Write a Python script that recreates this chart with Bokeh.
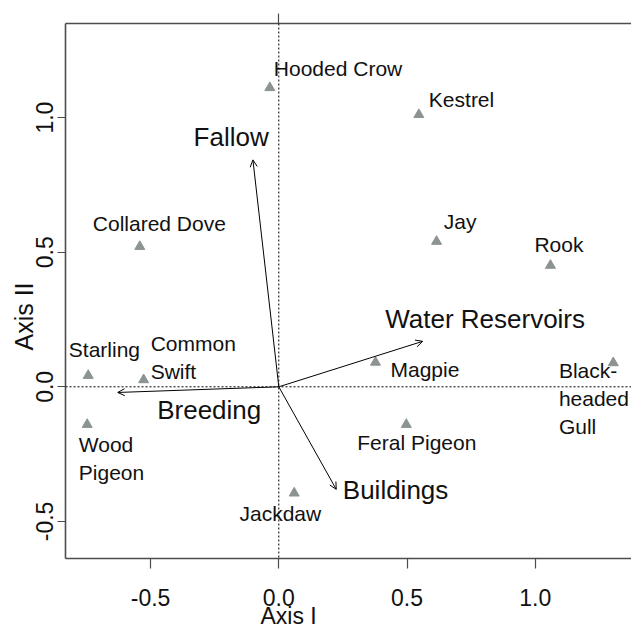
from bokeh.plotting import figure
from bokeh.models import (Range1d, LinearAxis, FixedTicker, Span, Arrow, OpenHead,
                          Title, ColumnDataSource)
from bokeh.core.properties import value
from bokeh.embed import file_html
from bokeh.resources import INLINE

# ---- data ----
species = ["Hooded Crow", "Kestrel", "Collared Dove", "Jay", "Rook", "Starling",
           "Common\nSwift", "Wood\nPigeon", "Jackdaw", "Magpie", "Feral Pigeon",
           "Black-\nheaded\nGull"]
axis1 = [-0.035, 0.546, -0.542, 0.615, 1.059, -0.743, -0.527, -0.747, 0.060, 0.377, 0.497, 1.304]
axis2 = [1.111, 1.011, 0.521, 0.540, 0.451, 0.042, 0.026, -0.140, -0.395, 0.091, -0.140, 0.089]

env_vars = ["Fallow", "Breeding", "Water Reservoirs", "Buildings"]
env_x = [-0.101, -0.628, 0.561, 0.224]
env_y = [0.843, -0.021, 0.169, -0.381]

x_ticks = [-0.5, 0.0, 0.5, 1.0]
y_ticks = [-0.5, 0.0, 0.5, 1.0]
tick_labels = {-0.5: "-0.5", 0.0: "0.0", 0.5: "0.5", 1.0: "1.0"}
x_title = "Axis I"
y_title = "Axis II"

# label placement (pixel offsets from marks)
sp_dx = [4, 10, -47, 7.3, -16, -19.4, 7, -8.4, -54.7, 15, -49, -54.4]
sp_dy = [-18.8, -15.5, -23.5, -20.2, -20.8, -25.8, -22.6, 34, 20.5, 7.5, 17.8, 35.7]
env_dx = [-21.8, 91.5, 62.4, 59.3]
env_dy = [-22.6, 17.3, -22.4, 0.3]

FONT = "Liberation Sans"
AXC = "#4d4d4d"
TXT = "#111111"

p = figure(width=631, height=628, output_backend="svg", toolbar_location=None,
           x_range=Range1d(-0.8316, 1.375), y_range=Range1d(-0.6378, 1.3496),
           x_axis_location=None, y_axis_location=None,
           min_border_left=65, min_border_top=23, min_border_bottom=70, min_border_right=0)
p.outline_line_color = None
p.grid.visible = False
p.background_fill_color = "white"
p.border_fill_color = "white"

def style_axis(ax, ticks, tick_out):
    ax.ticker = FixedTicker(ticks=ticks)
    ax.major_label_overrides = tick_labels
    ax.axis_line_color = AXC
    ax.axis_line_width = 1.6
    ax.major_tick_line_color = AXC
    ax.major_tick_line_width = 1.2
    ax.major_tick_out = tick_out
    ax.major_tick_in = 0
    ax.minor_tick_line_color = None
    ax.major_label_text_font = FONT
    ax.major_label_text_font_size = "23px"
    ax.major_label_text_color = TXT

bottom = LinearAxis()
style_axis(bottom, x_ticks, 10)
bottom.major_label_standoff = 20
p.add_layout(bottom, "below")

left = LinearAxis()
style_axis(left, y_ticks, 8)
left.major_label_orientation = "vertical"
left.major_label_standoff = 4
p.add_layout(left, "left")

top = LinearAxis()
style_axis(top, [0.0], 10)
top.major_label_text_color = None
top.major_label_text_font_size = "1px"
top.major_label_standoff = 0
p.add_layout(top, "above")

# axis titles
p.add_layout(Title(text=x_title, text_font=FONT, text_font_size="23px", text_color=TXT,
                   text_font_style="normal", align="left", vertical_align="top",
                   offset=195, standoff=-11), "below")
p.add_layout(Title(text=y_title, text_font=FONT, text_font_size="25px", text_color=TXT,
                   text_font_style="normal", align="left", vertical_align="top",
                   offset=208, standoff=-13), "left")

# reference lines
p.add_layout(Span(location=0, dimension="height", line_color="black", line_width=1, line_dash="2 2"))
p.add_layout(Span(location=0, dimension="width", line_color="black", line_width=1, line_dash="2 2"))

# species points
src = ColumnDataSource(dict(x=axis1, y=axis2, name=species, dx=sp_dx, dy=sp_dy))
p.scatter("x", "y", source=src, marker="triangle", size=10, fill_color="#8c9393",
          line_color="#8c9393")
p.text("x", "y", text="name", source=src, x_offset="dx", y_offset="dy",
       text_font=value(FONT), text_font_size="21px", text_color=TXT,
       text_align="left", text_baseline="middle", text_line_height=1.2)

# environmental arrows
for ex, ey in zip(env_x, env_y):
    p.add_layout(Arrow(x_start=0, y_start=0, x_end=ex, y_end=ey,
                       line_color="black", line_width=1,
                       end=OpenHead(size=7, line_color="black", line_width=1)))
esrc = ColumnDataSource(dict(x=env_x, y=env_y, name=env_vars, dx=env_dx, dy=env_dy))
p.text("x", "y", text="name", source=esrc, x_offset="dx", y_offset="dy",
       text_font=value(FONT), text_font_size="26px", text_color=TXT,
       text_align="center", text_baseline="middle")

open("out.html", "w").write(file_html(p, INLINE))
